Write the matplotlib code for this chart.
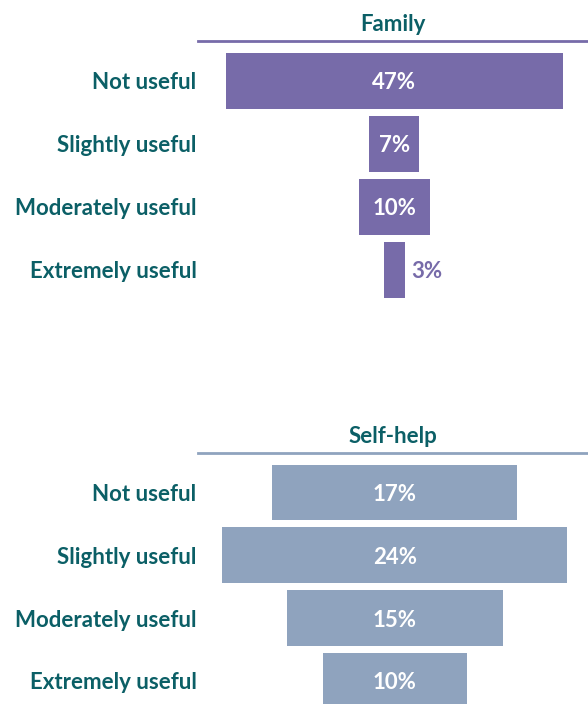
import numpy as np
import matplotlib.pyplot as plt

plt.rcParams['font.family'] = ['Lato', 'DejaVu Sans']

categories = ['Not useful', 'Slightly useful', 'Moderately useful', 'Extremely useful']
family = [47, 7, 10, 3]
selfhelp = [17, 24, 15, 10]

teal = '#0B5F66'
purple = '#776BA9'
bluegrey = '#8FA3BE'

W, H = 588, 704
fig = plt.figure(figsize=(W / 100, H / 100), dpi=100)
fs = 16

def panel(top_px, bottom_px, title, vals, color, ylim_bottom, xk):
    ax = fig.add_axes([198 / W, 1 - bottom_px / H, 390 / W, (bottom_px - top_px) / H])
    vals = np.array(vals)
    y = np.arange(len(categories))
    ax.barh(y, vals, left=-vals / 2, height=0.89, color=color)
    m = vals.max()
    ax.set_xlim(-m * xk[0], m * xk[1])
    ax.set_ylim(ylim_bottom, -0.63)
    ax.set_yticks(y)
    ax.set_yticklabels(categories, fontsize=fs, fontweight='bold', color=teal,
                       va='center_baseline')
    ax.tick_params(axis='y', length=0, pad=1)
    ax.set_xticks([])
    for s in ['left', 'right', 'bottom']:
        ax.spines[s].set_visible(False)
    ax.spines['top'].set_color(color)
    ax.spines['top'].set_linewidth(2)
    ax.set_title(title, fontsize=fs, fontweight='bold', color=teal, pad=7)
    for yi, v in zip(y, vals):
        if v / m > 0.1:
            ax.text(0, yi, f'{v}%', ha='center', va='center_baseline', color='white',
                    fontsize=fs, fontweight='bold')
        else:
            ax.text(v / 2 + m * 0.017, yi, f'{v}%', ha='left', va='center_baseline',
                    color=color, fontsize=fs, fontweight='bold')
    return ax

panel(41, 301.5, 'Family', family, purple, 3.5, (0.583, 0.575))
panel(453, 704, 'Self-help', selfhelp, bluegrey, 3.37, (0.57, 0.56))

fig.savefig('out.png', dpi=100)
